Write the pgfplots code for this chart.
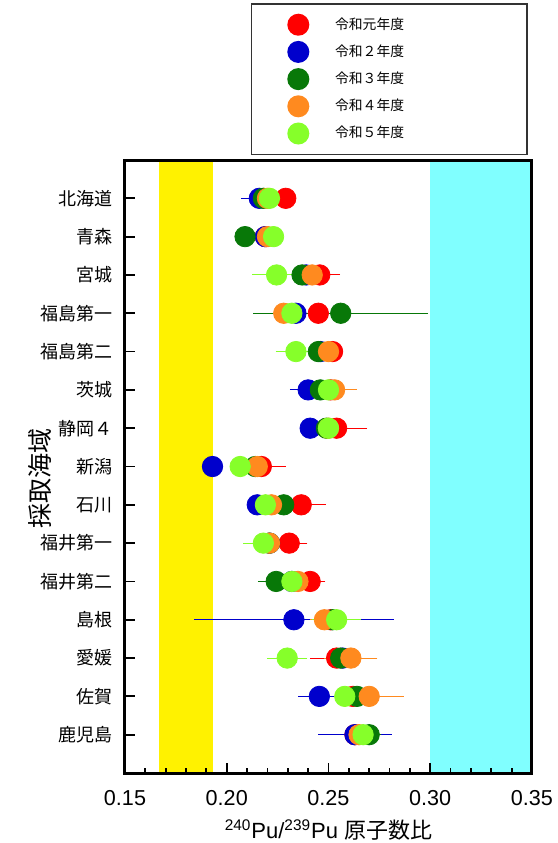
\documentclass[border=0pt]{standalone}
\usepackage{fontspec}
\setmainfont{Liberation Sans}
\newfontfamily\jp{Noto Sans CJK JP}
\usepackage{pgfplots}
\pgfplotsset{compat=1.18}
\usepackage{pgfplotstable}

\definecolor{cRed}{HTML}{FF0000}
\definecolor{cBlue}{HTML}{0000CC}
\definecolor{cGreen}{HTML}{087808}
\definecolor{cOrange}{HTML}{FF8A1F}
\definecolor{cLime}{HTML}{86FF2A}
\definecolor{cYellow}{HTML}{FFF200}
\definecolor{cCyan}{HTML}{80FFFF}

% y: 1 北海道 ... 15 鹿児島
\pgfplotstableread{
y x e
1 0.229 0.003
2 0.219 0.002
3 0.2457 0.008
4 0.245 0.003
5 0.252 0.003
6 0.251 0.003
7 0.254 0.013
8 0.217 0.010
9 0.2366 0.010
10 0.2307 0.007
11 0.241 0.0055
12 0.251 0.004
13 0.254 0.011
14 0.262 0.004
15 0.263 0.003
}\tRed
\pgfplotstableread{
y x e
1 0.216 0.007
2 0.219 0.002
3 0.239 0.003
4 0.234 0.003
5 0.246 0.003
6 0.240 0.007
7 0.241 0.003
8 0.193 0.003
9 0.215 0.003
10 0.221 0.003
11 0.232 0.003
12 0.233 0.047
13 0.257 0.003
14 0.2455 0.0085
15 0.263 0.016
}\tBlue
\pgfplotstableread{
y x e
1 0.218 0.002
2 0.209 0.002
3 0.237 0.003
4 0.256 0.041
5 0.245 0.003
6 0.246 0.003
7 0.249 0.003
8 0.214 0.003
9 0.228 0.003
10 0.221 0.003
11 0.2243 0.007
12 0.252 0.003
13 0.256 0.003
14 0.264 0.003
15 0.270 0.004
}\tGreen
\pgfplotstableread{
y x e
1 0.220 0.002
2 0.220 0.002
3 0.242 0.003
4 0.228 0.003
5 0.250 0.003
6 0.253 0.009
7 0.250 0.003
8 0.215 0.003
9 0.222 0.003
10 0.221 0.003
11 0.235 0.003
12 0.248 0.005
13 0.261 0.011
14 0.270 0.015
15 0.265 0.003
}\tOrange
\pgfplotstableread{
y x e
1 0.221 0.002
2 0.223 0.002
3 0.2245 0.010
4 0.232 0.003
5 0.234 0.008
6 0.250 0.003
7 0.250 0.003
8 0.2066 0.003
9 0.219 0.003
10 0.218 0.008
11 0.232 0.003
12 0.254 0.010
13 0.2297 0.008
14 0.258 0.003
15 0.267 0.003
}\tLime

\begin{document}
\begin{tikzpicture}
\begin{axis}[
  scale only axis,
  width=203.5pt, height=306.5pt,
  xmin=0.15, xmax=0.35,
  ymin=0, ymax=16, y dir=reverse,
  xtick={0.15,0.20,0.25,0.30,0.35},
  minor xtick={0.16,0.17,0.18,0.19,0.21,0.22,0.23,0.24,0.26,0.27,0.28,0.29,0.31,0.32,0.33,0.34},
  xticklabels={0.15,0.20,0.25,0.30,0.35},
  xtick pos=bottom, ytick pos=left,
  tick align=inside,
  major tick length=5pt, minor tick length=2.5pt,
  tick style={black, line width=0.9pt},
  ytick={1,...,15},
  yticklabels={北海道,青森,宮城,福島第一,福島第二,茨城,静岡４,新潟,石川,福井第一,福井第二,島根,愛媛,佐賀,鹿児島},
  yticklabel style={font=\jp\fontsize{9}{10}\selectfont, xshift=-2.7pt},
  xticklabel style={font=\fontsize{10.8}{12}\selectfont, yshift=-5pt},
  /pgf/number format/assume math mode=true,
  axis line style={line width=1.5pt},
  axis on top,
  xlabel={\textsuperscript{240}Pu/\textsuperscript{239}Pu {\jp 原子数比}},
  xlabel style={font=\fontsize{11}{13}\selectfont, at={(axis description cs:0.5,0)}, anchor=center, yshift=-28.5pt},
  ylabel={\jp 採取海域},
  ylabel style={font=\jp\fontsize{12.5}{14}\selectfont, at={(axis description cs:-0.2088,0.481)}, anchor=center},
  clip=false,
  legend style={at={(0.99,1.008)}, anchor=south east, draw=black!80, line width=0.8pt,
    inner xsep=0pt, inner ysep=3.6pt, font=\jp\fontsize{6.9}{8}\selectfont,
    row sep=0pt, cells={anchor=west}},
  legend image code/.code={\path (-23pt,-6.4pt) (16pt,6.4pt);
    \draw[mark repeat=2,mark phase=2,#1] plot coordinates {(-1pt,0pt) (0pt,0pt) (1pt,0pt)};},
  error bars/error bar style={line width=0.5pt},
  error bars/error mark options={rotate=0, mark size=2pt, line width=0.5pt},
]
\addplot[fill=cYellow, draw=none, forget plot] coordinates {(0.1665,0) (0.193,0) (0.193,16) (0.1665,16)} --cycle;
\addplot[fill=cCyan, draw=none, forget plot] coordinates {(0.30,0) (0.35,0) (0.35,16) (0.30,16)} --cycle;

\addplot[only marks, mark=*, mark size=5.1pt, color=cRed, mark options={fill=cRed, draw=cRed},
  error bars/.cd, x dir=both, x explicit] table[x=x, y=y, x error=e] {\tRed};
\addlegendentry{\makebox[94pt][l]{令和元年度}}
\addplot[only marks, mark=*, mark size=5.1pt, color=cBlue, mark options={fill=cBlue, draw=cBlue},
  error bars/.cd, x dir=both, x explicit] table[x=x, y=y, x error=e] {\tBlue};
\addlegendentry{\makebox[94pt][l]{令和２年度}}
\addplot[only marks, mark=*, mark size=5.1pt, color=cGreen, mark options={fill=cGreen, draw=cGreen},
  error bars/.cd, x dir=both, x explicit] table[x=x, y=y, x error=e] {\tGreen};
\addlegendentry{\makebox[94pt][l]{令和３年度}}
\addplot[only marks, mark=*, mark size=5.1pt, color=cOrange, mark options={fill=cOrange, draw=cOrange},
  error bars/.cd, x dir=both, x explicit] table[x=x, y=y, x error=e] {\tOrange};
\addlegendentry{\makebox[94pt][l]{令和４年度}}
\addplot[only marks, mark=*, mark size=5.1pt, color=cLime, mark options={fill=cLime, draw=cLime},
  error bars/.cd, x dir=both, x explicit] table[x=x, y=y, x error=e] {\tLime};
\addlegendentry{\makebox[94pt][l]{令和５年度}}
\end{axis}
\pgfresetboundingbox
\path[use as bounding box] (-62.5pt,-35pt) rectangle (216.5pt,386.5pt);
\end{tikzpicture}
\end{document}
